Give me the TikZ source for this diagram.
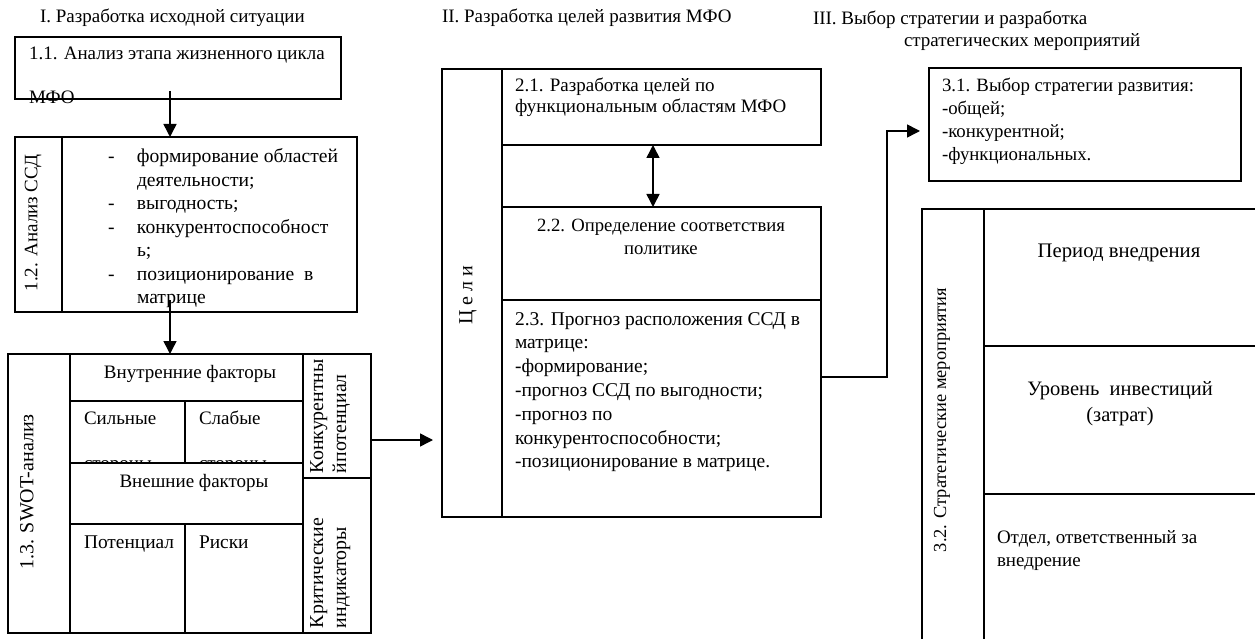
\documentclass[tikz,border=0pt]{standalone}
\usepackage{fontspec}
\setmainfont{Liberation Serif}
\usetikzlibrary{arrows.meta}
\newcommand{\MyTL}[1]{\begin{tabular}[t]{@{}l@{}}#1\end{tabular}}
\newcommand{\MyTC}[1]{\begin{tabular}[t]{@{}c@{}}#1\end{tabular}}
\begin{document}
\begin{tikzpicture}[x=1pt,y=-1pt,
  every node/.style={inner sep=0pt, outer sep=0pt},
  txt/.style={font=\fontsize{19}{23.5}\selectfont},
  cell/.style={draw, line width=1.5pt, anchor=north west, fill=white},
  arr/.style={line width=1.5pt, -{Triangle[length=13pt,width=13pt]}},
  darr/.style={line width=1.5pt, {Triangle[length=13pt,width=13pt]}-{Triangle[length=13pt,width=13pt]}},
  rot/.style={rotate=90}]
\useasboundingbox (0,0) rectangle (1255,639);
% ---------- titles
\node[txt, anchor=base west] (t1) at (40,23) {I. Разработка исходной ситуации};
\node[txt, anchor=base west] (t2) at (442,23) {II. Разработка целей развития МФО};
\node[txt, anchor=base west] (t3a) at (813,25) {III. Выбор стратегии и разработка};
\node[txt, anchor=base west] (t3b) at (904,47) {стратегических мероприятий};
% ---------- 1.1
\node[cell, minimum width=326pt, minimum height=62pt] (b11) at (15,37) {};
\node[txt, anchor=base west] (b11t) at (29,60) {1.1. Анализ этапа жизненного цикла};
\node[txt, anchor=base west] (b11m) at (29,104) {МФО};
% ---------- 1.2
\node[cell, minimum width=47pt, minimum height=175pt] (b12l) at (15,137) {};
\node[cell, minimum width=295pt, minimum height=175pt] (b12r) at (62,137) {};
\node[txt, rot] (b12lt) at (33,223) {1.2. Анализ ССД};
\node[font=\fontsize{19.6}{23.5}\selectfont, anchor=base west] (b12t) at (108,163) {\MyTL{\makebox[29pt][l]{-}формирование областей\\
\makebox[29pt][l]{}деятельности;\\
\makebox[29pt][l]{-}выгодность;\\
\makebox[29pt][l]{-}конкурентоспособност\\
\makebox[29pt][l]{}ь;\\
\makebox[29pt][l]{-}позиционирование\ \ в\\
\makebox[29pt][l]{}матрице}};
% ---------- 1.3 SWOT
\node[cell, minimum width=62pt, minimum height=279pt] (swl) at (8,354) {};
\node[cell, minimum width=233pt, minimum height=47pt] (swin) at (70,354) {};
\node[cell, minimum width=115pt, minimum height=62pt] (sws) at (70,401) {};
\node[cell, minimum width=118pt, minimum height=62pt] (sww) at (185,401) {};
\node[txt, anchor=base west] (swst) at (84,424) {Сильные};
\node[txt, anchor=base west] (swst2) at (84,469) {стороны};
\node[txt, anchor=base west] (swwt) at (199,424) {Слабые};
\node[txt, anchor=base west] (swwt2) at (199,469) {стороны};
\node[cell, minimum width=233pt, minimum height=61pt] (swex) at (70,463) {};
\node[cell, minimum width=115pt, minimum height=109pt] (swp) at (70,524) {};
\node[cell, minimum width=118pt, minimum height=109pt] (swr) at (185,524) {};
\node[cell, minimum width=68pt, minimum height=124pt] (swk) at (303,354) {};
\node[cell, minimum width=68pt, minimum height=155pt] (swc) at (303,478) {};
\node[font=\fontsize{20}{23}\selectfont, rot] (swlt) at (27,492) {1.3. SWOT-анализ};
\node[txt, anchor=base] (swint) at (190,378) {Внутренние факторы};
\node[txt, anchor=base] (swext) at (194,487) {Внешние факторы};
\node[font=\fontsize{19.4}{23}\selectfont, anchor=base west] (swpt) at (84,548) {Потенциал};
\node[font=\fontsize{19.4}{23}\selectfont, anchor=base west] (swrt) at (199,548) {Риски};
\node[font=\fontsize{19.8}{23}\selectfont, rot, anchor=base west] (swkt) at (323,473) {\MyTL{Конкурентны\\йпотенциал}};
\node[font=\fontsize{19.8}{23}\selectfont, rot, anchor=base west] (swct) at (323,628) {\MyTL{Критические\\индикаторы}};
% ---------- II
\node[cell, minimum width=60pt, minimum height=448pt] (cel) at (442,69) {};
\node[font=\fontsize{20}{23}\selectfont, rot] (celt) at (468,295) {Ц е л и};
\node[cell, minimum width=319pt, minimum height=76pt] (b21) at (502,69) {};
\node[cell, minimum width=319pt, minimum height=93pt] (b22) at (502,207) {};
\node[cell, minimum width=319pt, minimum height=217pt] (b23) at (502,300) {};
\node[font=\fontsize{19}{21}\selectfont, anchor=base west] (b21t) at (515,92) {\MyTL{2.1. Разработка целей по\\функциональным областям МФО}};
\node[font=\fontsize{18.7}{23}\selectfont, anchor=base] (b22t) at (661,232) {\MyTC{2.2. Определение соответствия\\политике}};
\node[font=\fontsize{19.5}{23.8}\selectfont, anchor=base west] (b23t) at (515,325) {\MyTL{2.3. Прогноз расположения ССД в\\матрице:\\-формирование;\\-прогноз ССД по выгодности;\\-прогноз по\\конкурентоспособности;\\-позиционирование в матрице.}};
% ---------- III
\node[cell, minimum width=312pt, minimum height=113pt] (b31) at (929,68) {};
\node[font=\fontsize{18.8}{22.7}\selectfont, anchor=base west] (b31t) at (942,92) {\MyTL{3.1. Выбор стратегии развития:\\-общей;\\-конкурентной;\\-функциональных.}};
\node[cell, minimum width=62pt, minimum height=460pt] (b32l) at (922,209) {};
\node[cell, minimum width=300pt, minimum height=137pt] (b32a) at (984,209) {};
\node[cell, minimum width=300pt, minimum height=148pt] (b32b) at (984,346) {};
\node[cell, minimum width=300pt, minimum height=170pt] (b32c) at (984,494) {};
\node[font=\fontsize{18.4}{20}\selectfont, rot] (b32lt) at (942,420) {3.2. Стратегические мероприятия};
\node[font=\fontsize{20.7}{23}\selectfont, anchor=base] (b32at) at (1119,257) {Период внедрения};
\node[font=\fontsize{20.5}{26}\selectfont, anchor=base] (b32bt) at (1120,395) {\MyTC{Уровень\ \ инвестиций\\(затрат)}};
\node[font=\fontsize{19}{23}\selectfont, anchor=base west] (b32ct) at (997,543) {\MyTL{Отдел, ответственный за\\внедрение}};
% ---------- connectors
\coordinate (p1) at (170,91);
\coordinate (p2) at (170,300);
\coordinate (q1) at (371,440);
\coordinate (q2) at (433,440);
\coordinate (dx) at (653,0);
\coordinate (r0) at (821,377);
\coordinate (r3) at (920,131);
\draw[arr] (p1) -- (p1 |- b12r.north);
\draw[arr] (p2) -- (p2 |- swin.north);
\draw[arr] (q1) -- (q2);
\draw[darr] (dx |- b21.south) -- (dx |- b22.north);
\draw[arr] (r0) -- ++(66,0) |- (r3);
\end{tikzpicture}
\end{document}
